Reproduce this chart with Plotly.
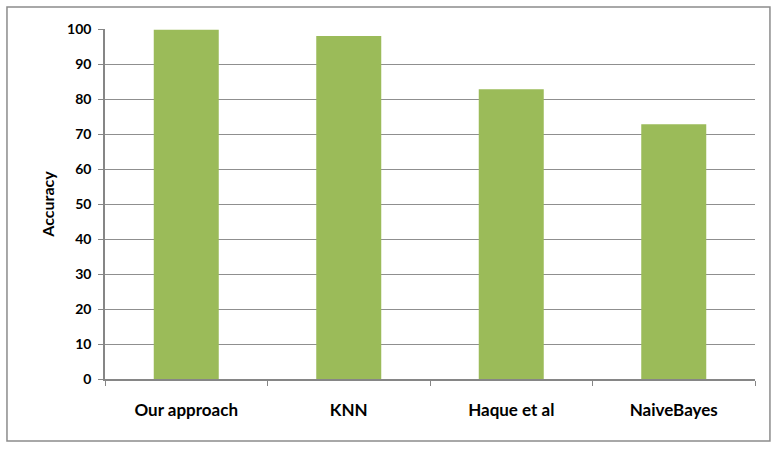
import plotly.graph_objects as go

# Accuracy of each method
methods = ["Our approach", "KNN", "Haque et al", "NaiveBayes"]
accuracy = [99.8, 98.0, 82.8, 72.8]
y_ticks = [0, 10, 20, 30, 40, 50, 60, 70, 80, 90, 100]

fig = go.Figure()
fig.add_trace(go.Bar(
    x=methods,
    y=accuracy,
    marker=dict(color="#9BBB59", line=dict(width=0)),
    width=0.4,
))

# Outer chart border, like an Excel chart frame
fig.add_shape(
    type="rect", xref="paper", yref="paper",
    x0=-0.1508, x1=1.023, y0=-0.177, y1=1.063,
    line=dict(color="#8c8c8c", width=1.5),
)

fig.update_layout(
    width=780, height=453,
    margin=dict(l=105, r=25, t=29, b=74),
    paper_bgcolor="white",
    plot_bgcolor="white",
    showlegend=False,
    font=dict(family="Lato", color="black"),
    bargap=0.6,
)

fig.update_xaxes(
    tickson="boundaries",
    ticks="outside", ticklen=5, tickcolor="#868686",
    showline=True, linecolor="#868686", linewidth=1.5,
    showgrid=False,
    tickfont=dict(size=17, family="Lato", weight="bold"),
    ticklabelstandoff=15,
)
fig.update_yaxes(
    range=[0, 100],
    tickvals=y_ticks,
    ticks="outside", ticklen=5, tickcolor="#868686",
    showline=True, linecolor="#868686", linewidth=1.5,
    showgrid=True, gridcolor="#8f8f8f", gridwidth=1.2,
    zeroline=False,
    tickfont=dict(size=14, family="Lato", weight="bold"),
    ticklabelstandoff=4,
    title=dict(text="Accuracy", font=dict(size=16, family="Lato", weight="bold"), standoff=8),
)

# drop the default page margin so the figure sits at the window's corner
fig.write_html("out.html", config={"displayModeBar": False},
               post_script="document.body.style.margin='0';")
